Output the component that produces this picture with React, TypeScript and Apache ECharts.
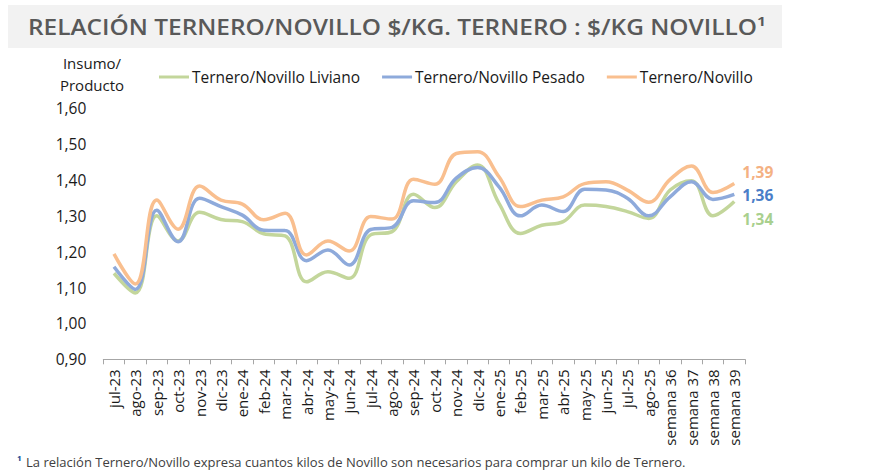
import React, { useEffect, useRef } from "react";
import * as echarts from "echarts";

const categories = [
  "jul-23", "ago-23", "sep-23", "oct-23", "nov-23", "dic-23", "ene-24", "feb-24", "mar-24", "abr-24",
  "may-24", "jun-24", "jul-24", "ago-24", "sep-24", "oct-24", "nov-24", "dic-24", "ene-25", "feb-25",
  "mar-25", "abr-25", "may-25", "jun-25", "jul-25", "ago-25", "semana 36", "semana 37", "semana 38", "semana 39",
];

const liviano = [
  1.14, 1.085, 1.30, 1.23, 1.31, 1.29, 1.284, 1.25, 1.244, 1.116,
  1.144, 1.126, 1.247, 1.256, 1.36, 1.323, 1.395, 1.442, 1.335, 1.251,
  1.274, 1.284, 1.33, 1.326, 1.312, 1.293, 1.372, 1.398, 1.30, 1.34,
];

const pesado = [
  1.158, 1.095, 1.316, 1.228, 1.349, 1.326, 1.302, 1.26, 1.259, 1.175,
  1.205, 1.163, 1.262, 1.268, 1.342, 1.337, 1.405, 1.435, 1.381, 1.30,
  1.33, 1.312, 1.374, 1.372, 1.349, 1.30, 1.353, 1.395, 1.346, 1.36,
];

const ternero = [
  1.194, 1.11, 1.344, 1.263, 1.383, 1.344, 1.333, 1.289, 1.307, 1.191,
  1.23, 1.202, 1.298, 1.291, 1.402, 1.388, 1.474, 1.479, 1.409, 1.326,
  1.344, 1.353, 1.39, 1.395, 1.372, 1.338, 1.402, 1.439, 1.365, 1.39,
];

const seriesNames = ["Ternero/Novillo Liviano", "Ternero/Novillo Pesado", "Ternero/Novillo"];
const lineColors = ["#C3D69B", "#8EAADB", "#F9BF8F"];
const labelColors = ["#A9D08E", "#4A7EC8", "#F4B183"];
const labelOffsets = [[2, 17], [2, 1], [2, -12]];

const TITLE = "RELACIÓN TERNERO/NOVILLO $/KG. TERNERO : $/KG NOVILLO¹";
const FOOTNOTE = "La relación Ternero/Novillo expresa cuantos kilos de Novillo son necesarios para comprar un kilo de Ternero.";

const fmt = (v: number) => v.toFixed(2).replace(".", ",");

export default function App() {
  const ref = useRef<HTMLDivElement>(null);

  useEffect(() => {
    document.body.style.margin = "0";
    if (!ref.current) return;
    const chart = echarts.init(ref.current, null, { renderer: "svg" });

    const canvas = document.createElement("canvas");
    const ctx = canvas.getContext("2d")!;
    ctx.font = '600 21px "Open Sans"';
    const titleW = ctx.measureText(TITLE).width || 738;
    const titleScale = 738 / titleW;
    ctx.font = '13px "Open Sans"';
    const footW = ctx.measureText(FOOTNOTE).width || 660;
    const footScale = 660 / footW;

    const data = [liviano, pesado, ternero];

    chart.setOption({
      animation: false,
      textStyle: { fontFamily: "'Open Sans', sans-serif" },
      grid: { left: 103.3, right: 145, top: 108.3, bottom: 110.7, containLabel: false },
      legend: {
        left: 154,
        top: 64,
        itemWidth: 30,
        itemHeight: 3,
        itemGap: 22,
        icon: "rect",
        textStyle: { fontSize: 15.5, color: "#1a1a1a", fontFamily: "'Open Sans', sans-serif", padding: [0, 0, 0, -2] },
        data: seriesNames,
      },
      xAxis: {
        type: "category",
        data: categories,
        boundaryGap: true,
        axisLine: { lineStyle: { color: "#A6A6A6", width: 1 } },
        axisTick: { show: true, length: 5, lineStyle: { color: "#A6A6A6" } },
        axisLabel: { rotate: 90, fontSize: 15, color: "#1a1a1a", margin: 10, interval: 0 },
      },
      yAxis: {
        type: "value",
        min: 0.9,
        max: 1.6,
        interval: 0.1,
        axisLine: { show: false },
        axisTick: { show: false },
        splitLine: { show: false },
        axisLabel: { fontSize: 15.5, color: "#1a1a1a", margin: 17, formatter: (v: number) => fmt(v) },
      },
      graphic: [
        { type: "rect", left: 8, top: 5, shape: { width: 774, height: 43 }, style: { fill: "#F2F2F2" }, silent: true },
        {
          type: "text",
          x: 28,
          y: 27,
          scaleX: titleScale,
          style: {
            text: TITLE,
            font: '600 21px "Open Sans"',
            fill: "#595959",
            verticalAlign: "middle",
          },
        },
        {
          type: "text",
          x: 92,
          y: 52,
          style: {
            text: "Insumo/\nProducto",
            font: '15px "Open Sans"',
            fill: "#1a1a1a",
            align: "center",
            lineHeight: 22,
          },
        },
        {
          type: "text",
          x: 17,
          y: 455,
          style: { text: "¹", font: 'bold 12px "Open Sans"', fill: "#2F5597" },
        },
        {
          type: "text",
          x: 26,
          y: 455,
          scaleX: footScale,
          style: { text: FOOTNOTE, font: '13px "Open Sans"', fill: "#404040" },
        },
      ],
      series: seriesNames.map((name, i) => ({
        name,
        type: "line",
        data: data[i],
        smooth: 0.4,
        symbol: "none",
        lineStyle: { width: 3.5, color: lineColors[i] },
        itemStyle: { color: lineColors[i] },
        endLabel: {
          show: true,
          formatter: (p: any) => fmt(p.value),
          color: labelColors[i],
          fontSize: 15.5,
          lineHeight: 16,
          fontWeight: "bold",
          distance: 6,
          offset: labelOffsets[i],
        },
      })),
    });

    return () => chart.dispose();
  }, []);

  return <div ref={ref} style={{ position: "absolute", left: 0, top: 0, width: 890, height: 470 }} />;
}
